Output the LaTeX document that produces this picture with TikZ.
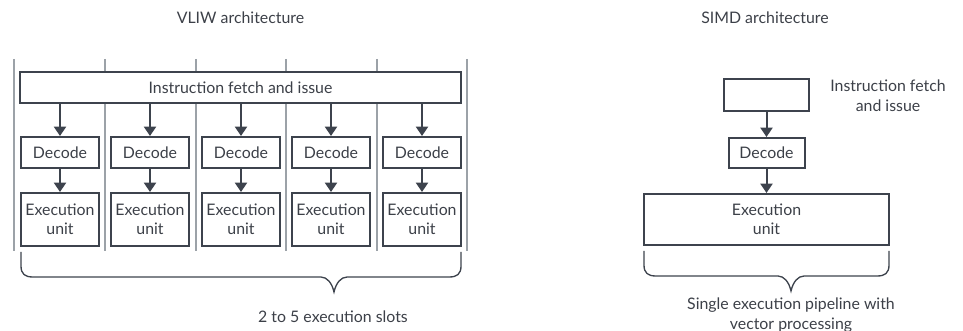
\documentclass[tikz,border=0pt]{standalone}
\usepackage{fontspec}
\setmainfont{Lato}
\usetikzlibrary{arrows.meta}
\definecolor{boxc}{HTML}{3D434D}
\definecolor{txtc}{HTML}{3C4048}
\definecolor{sep}{HTML}{9CA2A8}
\begin{document}
\begin{tikzpicture}[x=0.75pt,y=-0.75pt,
  blk/.style={draw=boxc,line width=1.5pt,fill=white,inner sep=0pt,text=txtc,align=center,font=\fontsize{11.9pt}{14.5pt}\selectfont},
  lbl/.style={text=txtc,align=center,inner sep=0pt,font=\fontsize{11.9pt}{15pt}\selectfont},
  sepline/.style={draw=sep,line width=1.1pt},
  arr/.style={draw=boxc,line width=1.5pt,-{Triangle[width=9pt,length=7pt]}},
  brc/.style={draw=boxc,line width=1pt}]
\useasboundingbox (0,0) rectangle (963,331);
% VLIW
\node[lbl] (t1) at (240.5,18) {VLIW architecture};
\foreach \i/\x in {0/14,1/105,2/196,3/286,4/377,5/467}{
  \coordinate (sa\i) at (\x,59);
  \coordinate (sb\i) at (\x,251);
  \draw[sepline] (sa\i) -- (sb\i);
}
\node[blk,minimum width=441*0.75pt,minimum height=31*0.75pt] (fetch) at (240.5,87.5) {Instruction fetch and issue};
\foreach \i/\x in {1/60,2/150,3/241,4/331,5/422}{
  \node[blk,minimum width=78*0.75pt,minimum height=31*0.75pt] (dec\i) at (\x,152.5) {Decode};
  \node[blk,minimum width=78*0.75pt,minimum height=53*0.75pt] (ex\i) at (\x,219.5) {Execution\\unit};
  \draw[arr] (fetch.south -| dec\i) -- (dec\i);
  \draw[arr] (dec\i) -- (ex\i);
}
\coordinate (bl) at (21,252);
\coordinate (br) at (461,252);
\coordinate (bt) at (334,292);
\draw[brc] (bl) -- (21,266) .. controls (21,274) and (25,277) .. (33,277) -- (321,277)
  .. controls (327,277) and (332,283) .. (bt)
  .. controls (336,283) and (341,277) .. (347,277) -- (449,277)
  .. controls (457,277) and (461,274) .. (461,266) -- (br);
\node[lbl] (s1) at (333,317) {2 to 5 execution slots};
% SIMD
\node[lbl] (t2) at (765,18) {SIMD architecture};
\node[blk,minimum width=85*0.75pt,minimum height=32*0.75pt] (sf) at (766.5,95) {};
\node[lbl] (sfl) at (888,95.5) {Instruction fetch\\and issue};
\node[blk,minimum width=76*0.75pt,minimum height=30*0.75pt] (sd) at (766.5,153) {Decode};
\node[blk,minimum width=245*0.75pt,minimum height=51*0.75pt] (se) at (766.5,219.5) {Execution\\unit};
\draw[arr] (sf) -- (sd);
\draw[arr] (sd) -- (se);
\coordinate (cl) at (644,251);
\coordinate (cr) at (889,251);
\coordinate (ct) at (791,291);
\draw[brc] (cl) -- (644,265) .. controls (644,273) and (648,276) .. (656,276) -- (778,276)
  .. controls (784,276) and (789,282) .. (ct)
  .. controls (793,282) and (798,276) .. (804,276) -- (877,276)
  .. controls (885,276) and (889,273) .. (889,265) -- (cr);
\node[lbl] (s2) at (791,315) {Single execution pipeline with\\vector processing};
\end{tikzpicture}
\end{document}
